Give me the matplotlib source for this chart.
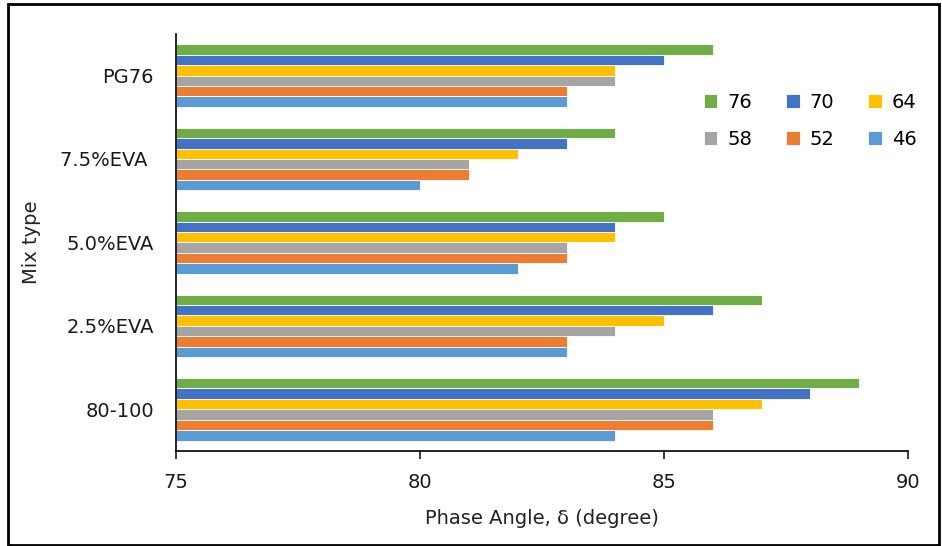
import matplotlib
matplotlib.use('Agg')
import matplotlib.pyplot as plt
import numpy as np
from matplotlib.patches import Rectangle

mixes = ['80-100', '2.5%EVA', '5.0%EVA', '7.5%EVA ', 'PG76']
temps = ['46', '52', '58', '64', '70', '76']
colors = ['#5B9BD5', '#ED7D31', '#A5A5A5', '#FFC000', '#4472C4', '#70AD47']

# phase angle per temperature, order follows mixes
v46 = [84, 83, 82, 80, 83]
v52 = [86, 83, 83, 81, 83]
v58 = [86, 84, 83, 81, 84]
v64 = [87, 85, 84, 82, 84]
v70 = [88, 86, 84, 83, 85]
v76 = [89, 87, 85, 84, 86]
series = [v46, v52, v58, v64, v70, v76]

plt.rcParams['font.family'] = ['DejaVu Sans']

fig = plt.figure(figsize=(9.42, 5.46), dpi=100)
ax = fig.add_axes([0.187, 0.174, 0.777, 0.764])

y = np.arange(len(mixes))
h = 0.75 / len(series)
for i, (vals, c, t) in enumerate(zip(series, colors, temps)):
    ax.barh(y - 0.375 + h * (i + 0.5), np.array(vals) - 75, height=h, left=75,
            color=c, edgecolor='white', linewidth=0.6, label=t)

ax.set_xlim(75, 90)
ax.set_ylim(-0.5, 4.5)
ax.set_xticks([75, 80, 85, 90])
ax.set_yticks(y)
ax.set_yticklabels(mixes)
ax.tick_params(axis='y', length=0, labelsize=14, pad=16, colors='#1a1a1a')
ax.tick_params(axis='x', length=6, width=1.2, labelsize=14, pad=10, direction='out',
               colors='#1a1a1a')
for s in ['top', 'right']:
    ax.spines[s].set_visible(False)
ax.spines['left'].set_linewidth(1.2)
ax.spines['bottom'].set_linewidth(1.2)
ax.set_xlabel('Phase Angle, δ (degree)', fontsize=14, labelpad=12, color='#222222')
ax.set_ylabel('Mix type', fontsize=14, labelpad=14, color='#222222')

hs, ls = ax.get_legend_handles_labels()
order = [5, 2, 4, 1, 3, 0]
ax.legend([hs[k] for k in order], [ls[k] for k in order], ncol=3, frameon=False,
          fontsize=14, loc='upper left', bbox_to_anchor=(0.697, 0.9),
          handlelength=0.7, handleheight=0.7, columnspacing=1.75, labelspacing=0.9,
          handletextpad=0.5)

fig.patches.append(Rectangle((0.009, 0.002), 0.988, 0.99, transform=fig.transFigure,
                             fill=False, edgecolor='black', linewidth=2))

fig.savefig('out.png', dpi=100)
